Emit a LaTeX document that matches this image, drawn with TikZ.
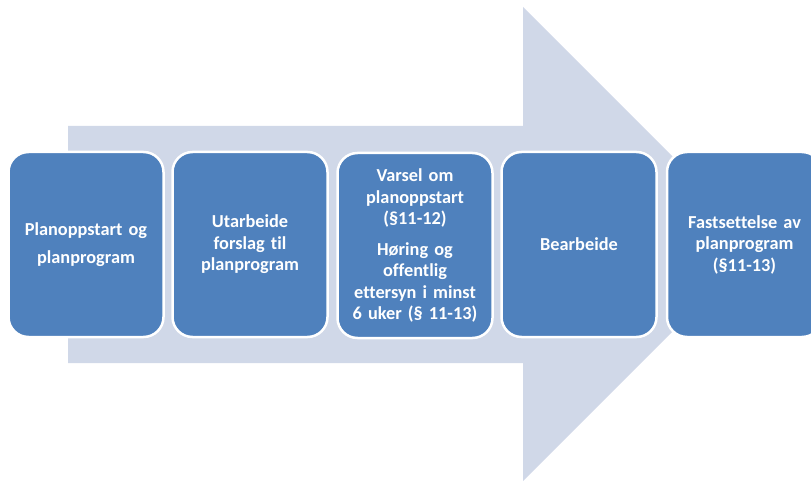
\documentclass[tikz,border=0pt]{standalone}
\usepackage{fontspec}
\setmainfont{Carlito}[Ligatures=NoCommon,WordSpace=0.8]
\definecolor{boxblue}{HTML}{4F81BD}
\definecolor{arrowgray}{HTML}{D0D8E8}
\tikzset{
  stage/.style={rectangle, rounded corners=20pt, fill=boxblue, draw=white, line width=2.5pt,
    minimum width=155pt, minimum height=185pt, text=white, align=center, text width=145pt,
    inner sep=0pt, font=\bfseries\fontsize{18.3}{21.5}\selectfont},
  bigarrow/.style={fill=arrowgray, draw=none}
}
\begin{document}
\begin{tikzpicture}[x=1pt,y=-1pt]
\useasboundingbox (0,0) rectangle (811,481);
\clip (0,0) rectangle (811,481);
\fill[bigarrow] (68,126) -- (523,126) -- (523,7) -- (760,244) -- (523,481) -- (523,363) -- (68,363) -- cycle;
\node[stage] (s1) at (86,244.5) {Planoppstart og\\[6.5pt]planprogram};
\node[stage] (s2) at (250,244.5) {Utarbeide\\forslag til\\planprogram};
\node[stage] (s3) at (415,245.5) {Varsel om\\planoppstart\\(§11-12)\\[9pt]Høring og\\offentlig\\ettersyn i minst\\6 uker (§ 11-13)};
\node[stage] (s4) at (579,244.5) {Bearbeide};
\node[stage] (s5) at (744.5,244.5) {Fastsettelse av\\planprogram\\(§11-13)};
\end{tikzpicture}
\end{document}
